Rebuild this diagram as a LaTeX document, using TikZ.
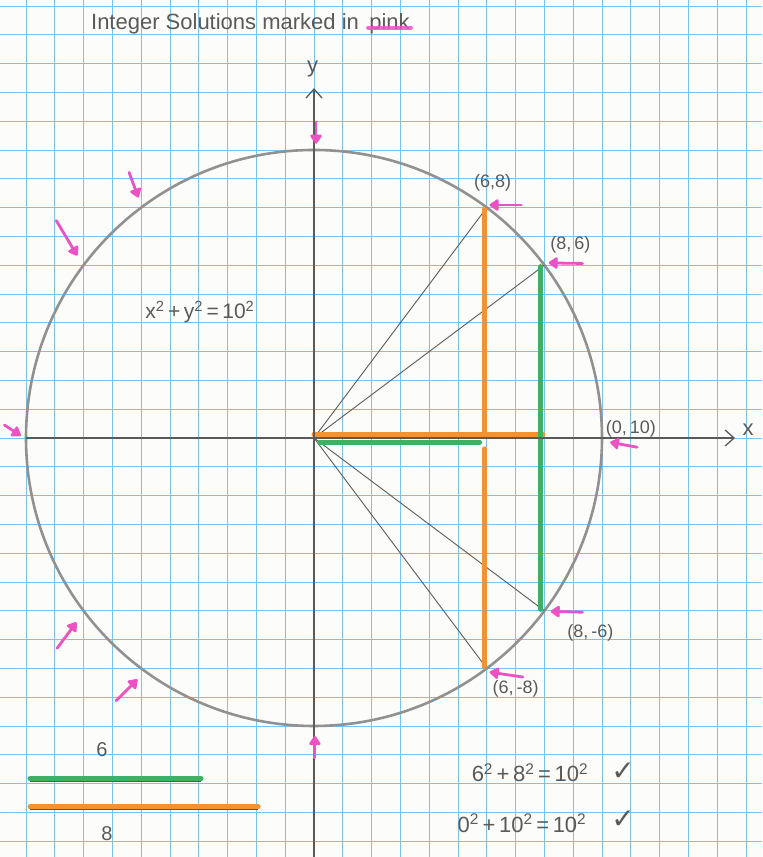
\documentclass[tikz,border=0pt]{standalone}
\usepackage{fontspec}
\setmainfont{Liberation Sans}
\newfontfamily\symfont{DejaVu Sans}
\usetikzlibrary{arrows.meta}
\definecolor{gridblue}{RGB}{120,196,238}
\definecolor{pencil}{RGB}{90,90,90}
\definecolor{circgray}{RGB}{145,145,145}
\definecolor{orng}{RGB}{242,146,50}
\definecolor{grn}{RGB}{62,176,98}
\definecolor{pnk}{RGB}{236,82,196}
\definecolor{paper}{RGB}{252,252,250}
\begin{document}
\begin{tikzpicture}[x=28.8pt,y=28.8pt,
  gridline/.style={gridblue, line width=0.9pt},
  axis/.style={pencil, line width=1.4pt},
  axistip/.style={-{Straight Barb[length=9pt,width=16pt,line width=1.3pt]}},
  ray/.style={pencil, line width=0.9pt},
  obar/.style={orng, line width=5pt, line cap=round},
  gbar/.style={grn, line width=5pt, line cap=round},
  pinkarrow/.style={pnk, line width=2.8pt, line cap=round, -{Triangle[round, length=10pt, width=13pt]}},
  hand/.style={text=pencil, font=\fontsize{18}{20}\selectfont, inner sep=1pt},
  checkmark/.style={text=pencil, font=\symfont\fontsize{28}{30}\selectfont, inner sep=1pt},
]
\useasboundingbox (-10.903,-14.549) rectangle (15.556,15.208);
\fill[paper] (-10.903,-14.549) rectangle (15.556,15.208);
\foreach \i in {-10,...,15} \draw[gridline] (\i,-14.549) -- (\i,15.208);
\foreach \j in {-14,...,15} \draw[gridline] (-10.903,\j) -- (15.556,\j);

% points
\coordinate (O) at (0,0);
\coordinate (P68) at (6,8);
\coordinate (P86) at (8,6);
\coordinate (P8m6) at (8,-6);
\coordinate (P6m8) at (6,-8);

% circle
\draw[circgray, line width=2.6pt] (O) circle (10);

% rays
\draw[ray] (O) -- (P68);
\draw[ray] (O) -- (P86);
\draw[ray] (O) -- (P8m6);
\draw[ray] (O) -- (P6m8);

% coloured legs
\coordinate (oh1) at (0,0.13);
\coordinate (oh2) at (7.95,0.13);
\coordinate (ov1) at (5.92,7.95);
\coordinate (ov2) at (5.92,0.1);
\coordinate (ov3) at (5.92,-0.38);
\coordinate (ov4) at (5.92,-7.95);
\coordinate (gh1) at (0.2,-0.15);
\coordinate (gh2) at (5.75,-0.15);
\coordinate (gv1) at (7.88,5.95);
\coordinate (gv2) at (7.88,-5.95);
\draw[obar] (oh1) -- (oh2);
\draw[gbar] (gh1) -- (gh2);
\draw[obar] (ov1) -- (ov2);
\draw[obar] (ov3) -- (ov4);
\draw[gbar] (gv1) -- (gv2);

% axes
\coordinate (xl) at (-10,0);
\coordinate (xr) at (14.62,0);
\coordinate (yb) at (0,-14.549);
\coordinate (yt) at (0,12.15);
\draw[axis, axistip] (xl) -- (xr);
\draw[axis, axistip] (yb) -- (yt);
\node[hand, font=\fontsize{22}{24}\selectfont] (xlab) at (15.07,0.3) {x};
\node[hand, font=\fontsize{22}{24}\selectfont] (ylab) at (-0.05,12.8) {y};

% pink arrows
\coordinate (t1) at (0.07,10.97);  \coordinate (h1) at (0.07,10.22);
\coordinate (t2) at (7.2,8.09);    \coordinate (h2) at (6.1,8.09);
\coordinate (t3) at (9.32,6.06);   \coordinate (h3) at (8.15,6.08);
\coordinate (t4) at (11.22,-0.32); \coordinate (h4) at (10.28,-0.15);
\coordinate (t5) at (9.32,-6.05);  \coordinate (h5) at (8.22,-6.02);
\coordinate (t6) at (7.25,-8.3);   \coordinate (h6) at (6.1,-8.13);
\coordinate (t7) at (0.03,-11.1);  \coordinate (h7) at (0.03,-10.35);
\coordinate (t8) at (-10.75,0.45); \coordinate (h8) at (-10.18,0.08);
\coordinate (t9) at (-6.42,9.22);  \coordinate (h9) at (-6.1,8.35);
\coordinate (t10) at (-8.95,7.55); \coordinate (h10) at (-8.22,6.33);
\coordinate (t11) at (-8.92,-7.3); \coordinate (h11) at (-8.25,-6.4);
\coordinate (t12) at (-6.87,-9.12);\coordinate (h12) at (-6.13,-8.38);
\foreach \k in {1,...,12} \draw[pinkarrow] (t\k) -- (h\k);

% point labels
\node[hand] (l68) at (6.2,8.85) {(6,8)};
\node[hand] (l86) at (8.9,6.7) {(8,\,6)};
\node[hand] (l010) at (11.0,0.33) {(0,\,10)};
\node[hand] (l8m6) at (9.6,-6.78) {(8,\,-6)};
\node[hand] (l6m8) at (7.0,-8.7) {(6,\,-8)};

% circle equation
\node[hand, font=\fontsize{21}{23}\selectfont] (eq) at (-3.96,4.37) {x\textsuperscript{2}\,+\,y\textsuperscript{2}\,=\,10\textsuperscript{2}};

% title
\node[hand, font=\fontsize{22}{24}\selectfont, anchor=base west] (title) at (-7.78,14.2) {Integer Solutions marked in};
\node[hand, font=\fontsize{22}{24}\selectfont, anchor=base west] (pinkword) at ([xshift=8pt]title.base east) {pink};
\draw[pnk, line width=4pt, line cap=round, opacity=0.85] ([yshift=1.5pt]pinkword.base west) -- ([yshift=1.5pt]pinkword.base east);

% legend bars
\coordinate (g1) at (-9.86,-11.84);
\coordinate (g2) at (-3.92,-11.84);
\coordinate (o1) at (-9.86,-12.81);
\coordinate (o2) at (-1.94,-12.81);
\draw[pencil, line width=0.8pt] ([yshift=-2.5pt]g1) -- ([yshift=-2.5pt]g2);
\draw[pencil, line width=0.8pt] ([yshift=-2.5pt]o1) -- ([yshift=-2.5pt]o2);
\draw[gbar] (g1) -- (g2);
\draw[obar] (o1) -- (o2);
\node[hand, font=\fontsize{20}{22}\selectfont] (six) at (-7.36,-10.83) {6};
\node[hand, font=\fontsize{20}{22}\selectfont] (eight) at (-7.19,-13.72) {8};

% checks
\node[hand, font=\fontsize{22}{24}\selectfont] (chk1) at (7.5,-11.63) {6\textsuperscript{2}\,+\,8\textsuperscript{2}\,=\,10\textsuperscript{2}};
\node[checkmark] (v1) at (10.73,-11.6) {✓};
\node[hand, font=\fontsize{22}{24}\selectfont] (chk2) at (7.22,-13.37) {0\textsuperscript{2}\,+\,10\textsuperscript{2}\,=\,10\textsuperscript{2}};
\node[checkmark] (v2) at (10.73,-13.26) {✓};
\end{tikzpicture}
\end{document}
